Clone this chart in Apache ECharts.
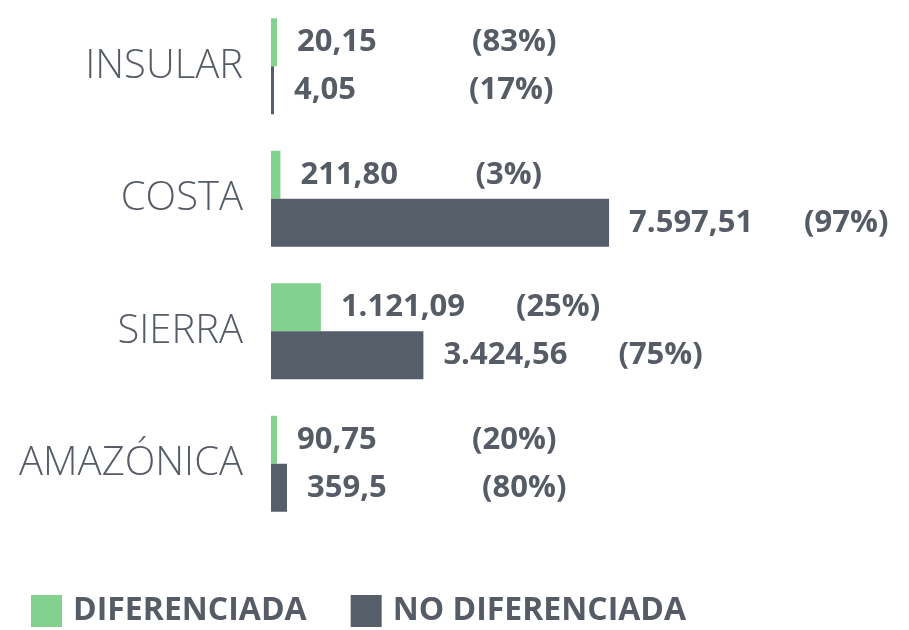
<!DOCTYPE html>
<html>
<head>
<meta charset="utf-8">
<script src="https://cdn.jsdelivr.net/npm/echarts@6/dist/echarts.min.js"></script>
<style>
  html, body { margin: 0; padding: 0; background: #fff; }
  #chart { width: 909px; height: 630px; }
</style>
</head>
<body>
<div id="chart"></div>
<script>
const regions = ['INSULAR', 'COSTA', 'SIERRA', 'AMAZÓNICA'];
const diferenciada = [20.15, 211.80, 1121.09, 90.75];
const noDiferenciada = [4.05, 7597.51, 3424.56, 359.5];
const decDif = [2, 2, 2, 2];
const decNoDif = [2, 2, 2, 1];

// 7.597,51 style
function fmt(v, d) {
  const parts = v.toFixed(d).split('.');
  const ent = parts[0].replace(/\B(?=(\d{3})+(?!\d))/g, '.');
  return parts[1] ? ent + ',' + parts[1] : ent;
}
function pct(a, b) {
  return Math.round(a / (a + b) * 100) + '%';
}

const textColor = '#555c66';
const labelFont = '"Liberation Sans Narrow", "Open Sans", sans-serif';

function label(own, other, dec) {
  return {
    show: true,
    position: 'right',
    distance: 20,
    formatter: p => '{v|' + fmt(own[p.dataIndex], dec[p.dataIndex]) + '}{p|(' + pct(own[p.dataIndex], other[p.dataIndex]) + ')}',
    rich: {
      v: { width: 175, fontSize: 31, fontWeight: 'bold', color: textColor, fontFamily: labelFont },
      p: { fontSize: 31, fontWeight: 'bold', color: textColor, fontFamily: labelFont }
    }
  };
}

const chart = echarts.init(document.getElementById('chart'));
chart.setOption({
  animation: false,
  grid: { left: 271, right: 282, top: 0, bottom: 100 },
  xAxis: { type: 'value', min: 0, max: 8000, show: false },
  yAxis: {
    type: 'category',
    data: regions,
    inverse: true,
    axisLine: { show: false },
    axisTick: { show: false },
    axisLabel: {
      margin: 28,
      fontSize: 40,
      fontWeight: 300,
      color: textColor,
      fontFamily: '"Open Sans", sans-serif'
    }
  },
  legend: {
    left: 26,
    bottom: -2,
    itemWidth: 31,
    itemHeight: 32,
    itemGap: 44,
    icon: 'rect',
    textStyle: { fontSize: 32, fontWeight: 'bold', color: textColor, fontFamily: labelFont, padding: [0, 0, 0, 6] }
  },
  series: [
    {
      name: 'DIFERENCIADA',
      type: 'bar',
      data: diferenciada,
      barWidth: 48,
      barGap: '0%',
      barMinHeight: 6,
      itemStyle: { color: '#82d18f' },
      label: label(diferenciada, noDiferenciada, decDif)
    },
    {
      name: 'NO DIFERENCIADA',
      type: 'bar',
      data: noDiferenciada,
      barWidth: 48,
      barMinHeight: 3,
      itemStyle: { color: '#565e69' },
      label: label(noDiferenciada, diferenciada, decNoDif)
    }
  ]
});
</script>
</body>
</html>
